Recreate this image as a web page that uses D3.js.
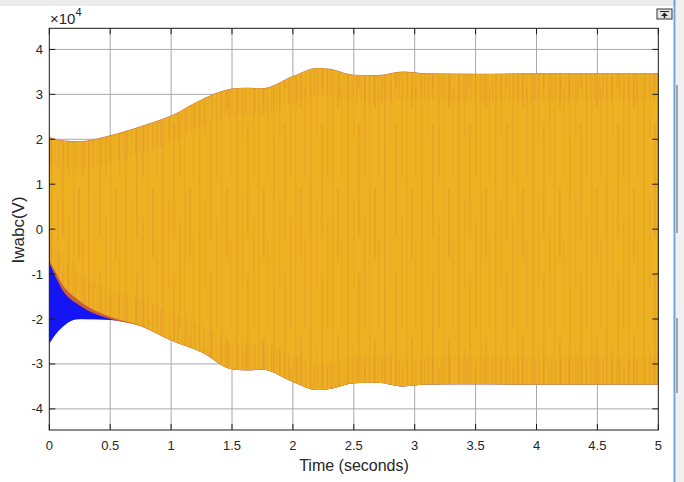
<!DOCTYPE html>
<html lang="en">
<head>
<meta charset="UTF-8">
<title>Iwabc(V)</title>
<script src="https://d3js.org/d3.v7.min.js"></script>
<style>
    body { margin: 0; background: #ffffff; font-family: "Liberation Sans", Arial, sans-serif; }
    svg { display: block; }
    .tick-label { font-size: 13px; fill: #262626; }
    .axis-title { font-size: 16px; fill: #262626; }
</style>
</head>
<body>
<svg width="684" height="482"></svg>
<script>
// envelope samples (units of 1e4)
const tiempo   = [0, 0.05, 0.1, 0.25, 0.5, 0.75, 1.0, 1.25, 1.5, 1.6, 1.75, 2.0, 2.2, 2.3, 2.5, 2.7, 2.9, 3.1, 3.5, 4.0, 4.5, 5.0];
const superior = [2.05, 2.0, 1.97, 1.95, 2.08, 2.28, 2.52, 2.88, 3.12, 3.14, 3.13, 3.4, 3.58, 3.56, 3.43, 3.42, 3.5, 3.46, 3.45, 3.46, 3.46, 3.46];
const inferiorC = [-0.7, -0.95, -1.2, -1.6, -1.95, -2.15, -2.48, -2.74, -3.12, -3.14, -3.13, -3.4, -3.58, -3.56, -3.43, -3.42, -3.5, -3.46, -3.45, -3.46, -3.46, -3.46];
const inferiorB = [-0.75, -1.05, -1.32, -1.7, -2.0, -2.16, -2.48, -2.74, -3.12, -3.14, -3.13, -3.4, -3.58, -3.56, -3.43, -3.42, -3.5, -3.46, -3.45, -3.46, -3.46, -3.46];
const inferiorA = [-2.55, -2.35, -2.2, -2.0, -2.02, -2.15, -2.48, -2.74, -3.12, -3.14, -3.13, -3.4, -3.58, -3.56, -3.43, -3.42, -3.5, -3.46, -3.45, -3.46, -3.46, -3.46];

const xTicks = [0, 0.5, 1, 1.5, 2, 2.5, 3, 3.5, 4, 4.5, 5];
const yTicks = [-4, -3, -2, -1, 0, 1, 2, 3, 4];

const svg = d3.select("svg");
const x = d3.scaleLinear().domain([0, 5]).range([49.3, 658.3]);
const y = d3.scaleLinear().domain([-4.47, 4.47]).range([430, 28.3]);

// window chrome
svg.append("rect").attr("x", 0).attr("y", 0).attr("width", 684).attr("height", 6).attr("fill", "#ebebeb");
svg.append("rect").attr("x", 676).attr("y", 0).attr("width", 8).attr("height", 482).attr("fill", "#f0f0f0");
svg.append("line").attr("x1", 674.5).attr("x2", 674.5).attr("y1", 0).attr("y2", 482)
    .attr("stroke", "#6aa6dc").attr("stroke-width", 2);
svg.append("line").attr("x1", 677).attr("x2", 677).attr("y1", 85).attr("y2", 233).attr("stroke", "#4a5a6a");
svg.append("line").attr("x1", 677).attr("x2", 677).attr("y1", 318).attr("y2", 393).attr("stroke", "#4a5a6a");
const icono = svg.append("g").attr("transform", "translate(657,9)");
icono.append("rect").attr("width", 15).attr("height", 10).attr("fill", "#e4e4e4").attr("stroke", "#333");
icono.append("line").attr("x1", 3).attr("x2", 12).attr("y1", 2.5).attr("y2", 2.5).attr("stroke", "#222");
icono.append("path").attr("d", "M4,7 L7.5,3.5 L11,7 Z").attr("fill", "#222");
icono.append("line").attr("x1", 7.5).attr("x2", 7.5).attr("y1", 6).attr("y2", 9).attr("stroke", "#222").attr("stroke-width", 1.5);

// grid
svg.append("g").selectAll("line").data(xTicks.slice(1, -1)).join("line")
    .attr("x1", d => x(d)).attr("x2", d => x(d)).attr("y1", y.range()[1]).attr("y2", y.range()[0])
    .attr("stroke", "#a8a8a8").attr("stroke-width", 1);
svg.append("g").selectAll("line").data(yTicks).join("line")
    .attr("x1", x.range()[0]).attr("x2", x.range()[1]).attr("y1", d => y(d)).attr("y2", d => y(d))
    .attr("stroke", "#a8a8a8").attr("stroke-width", 1);

// stripe textures (x, width, y, height, opacity)
const defs = svg.append("defs");
function rayas(id, ancho, alto, franjas) {
    const p = defs.append("pattern").attr("id", id).attr("patternUnits", "userSpaceOnUse")
        .attr("width", ancho).attr("height", alto).attr("x", 49.3).attr("y", 28);
    franjas.forEach(f => p.append("rect").attr("x", f[0]).attr("width", f[1]).attr("y", f[2])
        .attr("height", f[3]).attr("fill", "#e3862c").attr("opacity", f[4]));
}
rayas("rayasSuaves", 37, 150, [
    [2, 1, 0, 150, 0.55], [8, 1, 20, 90, 0.4], [13, 1.2, 0, 60, 0.5], [13, 1.2, 95, 55, 0.5],
    [19, 1, 40, 110, 0.45], [24, 1, 0, 150, 0.35], [29, 1.3, 10, 70, 0.5], [33, 1, 60, 90, 0.4]
]);
rayas("rayasDensas", 17, 150, [
    [1, 1, 0, 150, 0.5], [5.5, 1, 0, 150, 0.35], [9, 1.2, 0, 150, 0.45], [13.5, 0.9, 0, 150, 0.3]
]);

const datos = tiempo.map((t, i) => ({ t, sup: superior[i], c: inferiorC[i], b: inferiorB[i], a: inferiorA[i] }));
const area = (arriba, abajo) => d3.area().x(d => x(d.t)).y0(abajo).y1(arriba).curve(d3.curveMonotoneX);

// phase A (blue), B (red), C (yellow)
svg.append("path").attr("fill", "#1414f5")
    .attr("d", area(d => y(d.sup - 0.3), d => y(d.a))(datos));
svg.append("path").attr("fill", "#c8603a")
    .attr("d", area(d => y(d.sup + 0.008), d => y(d.b))(datos));
svg.append("path").attr("fill", "#ecb222")
    .attr("d", area(d => y(d.sup), d => y(d.c))(datos));
svg.append("path").attr("fill", "url(#rayasSuaves)")
    .attr("d", area(d => y(d.sup), d => y(d.c))(datos));
svg.append("path").attr("fill", "url(#rayasDensas)")
    .attr("d", area(d => y(d.sup), d => y(d.sup - 0.6))(datos));
svg.append("path").attr("fill", "url(#rayasDensas)")
    .attr("d", area(d => y(d.c + 0.6), d => y(d.c))(datos));

// axes box and inner ticks
const [x0, x1] = x.range(), [yb, yt] = y.range();
svg.append("rect").attr("x", x0).attr("y", yt).attr("width", x1 - x0).attr("height", yb - yt)
    .attr("fill", "none").attr("stroke", "#1a1a1a").attr("stroke-width", 1);
const marcas = svg.append("g").attr("stroke", "#1a1a1a");
xTicks.forEach(d => {
    marcas.append("line").attr("x1", x(d)).attr("x2", x(d)).attr("y1", yb).attr("y2", yb - 6);
    marcas.append("line").attr("x1", x(d)).attr("x2", x(d)).attr("y1", yt).attr("y2", yt + 6);
});
yTicks.forEach(d => {
    marcas.append("line").attr("x1", x0).attr("x2", x0 + 6).attr("y1", y(d)).attr("y2", y(d));
    marcas.append("line").attr("x1", x1).attr("x2", x1 - 6).attr("y1", y(d)).attr("y2", y(d));
});

// labels
svg.append("g").selectAll("text").data(xTicks).join("text")
    .attr("class", "tick-label").attr("x", d => x(d)).attr("y", 450).attr("text-anchor", "middle")
    .text(d => d);
svg.append("g").selectAll("text").data(yTicks).join("text")
    .attr("class", "tick-label").attr("x", 43).attr("y", d => y(d) + 4.5).attr("text-anchor", "end")
    .text(d => d);
svg.append("text").attr("class", "axis-title").attr("x", 354).attr("y", 471)
    .attr("text-anchor", "middle").text("Time (seconds)");
svg.append("text").attr("class", "axis-title").style("font-size", "17px")
    .attr("transform", "translate(24,230) rotate(-90)").attr("text-anchor", "middle").text("Iwabc(V)");
const exp = svg.append("text").attr("class", "tick-label").style("font-size", "15px").attr("x", 50).attr("y", 24);
exp.append("tspan").text("\u00d710");
exp.append("tspan").attr("dy", -8).attr("font-size", 11).text("4");
</script>
</body>
</html>
